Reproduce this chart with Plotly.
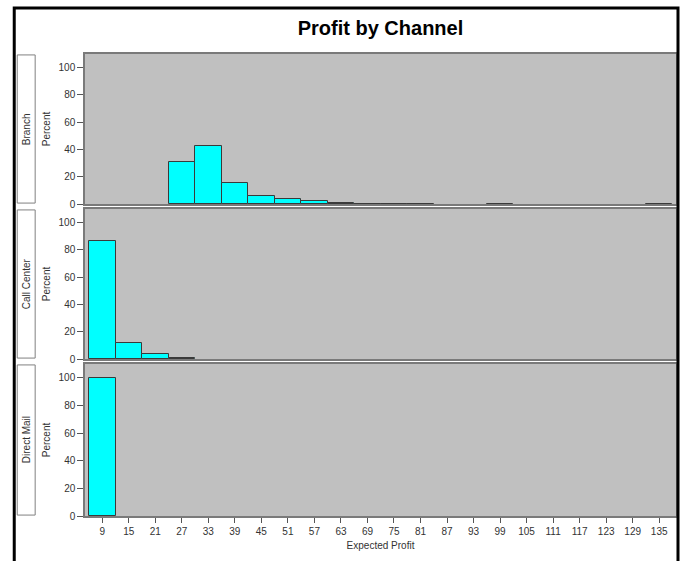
import plotly.graph_objects as go

# ---- data ----
bin_centers = [9, 15, 21, 27, 33, 39, 45, 51, 57, 63, 69, 75, 81, 87, 93, 99, 105, 111, 117, 123, 129, 135]
channels = ["Branch", "Call Center", "Direct Mail"]
branch_pct = [0, 0, 0, 30.7, 42.3, 15.2, 5.9, 4.0, 2.2, 0.6, 0.3, 0.3, 0.3, 0, 0, 0.3, 0, 0, 0, 0, 0, 0.3]
call_center_pct = [86.2, 12.1, 3.6, 0.8, 0, 0, 0, 0, 0, 0, 0, 0, 0, 0, 0, 0, 0, 0, 0, 0, 0, 0]
direct_mail_pct = [100, 0, 0, 0, 0, 0, 0, 0, 0, 0, 0, 0, 0, 0, 0, 0, 0, 0, 0, 0, 0, 0]
series = [branch_pct, call_center_pct, direct_mail_pct]
y_ticks = [0, 20, 40, 60, 80, 100]

FONT = "Liberation Sans, Arial, sans-serif"

W, H = 683, 561
ML, MR, MT, MB = 85, 5, 54, 45
PW = W - ML - MR
PH = H - MT - MB


def ydom(top_px, bot_px):
    return [(MT + PH - bot_px) / PH, (MT + PH - top_px) / PH]


domains = [ydom(54, 204), ydom(209, 359), ydom(364, 516)]

fig = go.Figure()
for i, (name, vals) in enumerate(zip(channels, series)):
    xs = [c for c, v in zip(bin_centers, vals) if v > 0]
    ys = [v for v in vals if v > 0]
    fig.add_trace(go.Bar(
        x=xs, y=ys, width=6,
        marker=dict(color="#00FFFF", line=dict(color="#3a3a3a", width=1)),
        xaxis="x" if i == 0 else f"x{i+1}",
        yaxis="y" if i == 0 else f"y{i+1}",
        showlegend=False, name=name,
    ))

layout = dict(
    width=W, height=H,
    margin=dict(l=ML, r=MR, t=MT, b=MB),
    paper_bgcolor="white",
    plot_bgcolor="#C0C0C0",
    font=dict(family=FONT, size=10, color="#333333"),
    bargap=0,
    title=dict(text="<b>Profit by Channel</b>", x=0.5, xref="paper",
               y=1 - 28 / H, yref="container", yanchor="middle", xanchor="center",
               font=dict(family=FONT, size=20, color="black")),
    showlegend=False,
)

for i in range(3):
    xa = "xaxis" if i == 0 else f"xaxis{i+1}"
    ya = "yaxis" if i == 0 else f"yaxis{i+1}"
    bottom = (i == 2)
    layout[xa] = dict(
        domain=[0, 1], anchor="y" if i == 0 else f"y{i+1}",
        range=[5.1, 138.8],
        tickvals=bin_centers, ticktext=[str(c) for c in bin_centers],
        showticklabels=bottom,
        ticks="outside" if bottom else "", ticklen=5, tickcolor="#555555",
        showline=True, mirror=True, linecolor="#7a7a7a", linewidth=1.5,
        showgrid=False, zeroline=False,
        tickfont=dict(family=FONT, size=10, color="#333333"),
        title=dict(text="Expected Profit", font=dict(family=FONT, size=10, color="#333333"), standoff=6) if bottom else None,
    )
    if i > 0:
        layout[xa]["matches"] = "x"
    layout[ya] = dict(
        domain=domains[i], anchor="x" if i == 0 else f"x{i+1}",
        range=[0, 110],
        tickvals=y_ticks,
        ticks="outside", ticklen=6, tickcolor="#555555",
        showline=True, mirror=True, linecolor="#7a7a7a", linewidth=1.5,
        showgrid=False, zeroline=False,
        tickfont=dict(family=FONT, size=10, color="#333333"),
        title=dict(text="Percent", font=dict(family=FONT, size=10, color="#333333"), standoff=6),
    )

fig.update_layout(**layout)

# row label boxes
shapes = []
annotations = []
x0p = (17 - ML) / PW
x1p = (35 - ML) / PW
for i, name in enumerate(channels):
    d = domains[i]
    shapes.append(dict(type="rect", xref="paper", yref="paper", x0=x0p, x1=x1p,
                       y0=d[0] + 0.002, y1=d[1] - 0.002,
                       line=dict(color="#808080", width=1), fillcolor="white"))
    annotations.append(dict(text=name, xref="paper", yref="paper", x=(x0p + x1p) / 2,
                            y=(d[0] + d[1]) / 2, textangle=-90, showarrow=False,
                            font=dict(family=FONT, size=10, color="#333333"),
                            xanchor="center", yanchor="middle"))

# outer frame
fx0 = (14 - ML) / PW
fx1 = (680 - ML) / PW
fy_top = (MT + PH - 8) / PH
fy_bot = -0.3
shapes.append(dict(type="path", xref="paper", yref="paper",
                   path=f"M {fx0} {fy_bot} L {fx0} {fy_top} L {fx1} {fy_top} L {fx1} {fy_bot}",
                   line=dict(color="black", width=3)))

fig.update_layout(shapes=shapes, annotations=annotations)
fig.write_html(
    "out.html",
    config={"displayModeBar": False},
    post_script="document.body.style.margin='0';document.body.style.overflow='hidden';"
                "document.documentElement.style.overflow='hidden';",
)
